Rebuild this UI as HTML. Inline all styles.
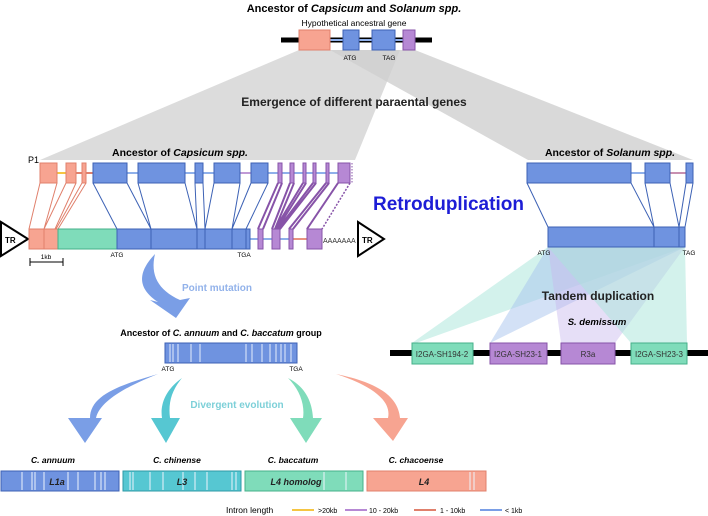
<!DOCTYPE html>
<html><head><meta charset="utf-8"><style>
body{margin:0;background:#fff}
svg{display:block;font-family:"Liberation Sans",Arial,sans-serif}
.b{fill:#6f93e0;stroke:#3d62b5;stroke-width:1}
.s{fill:#f7a491;stroke:#e0806c;stroke-width:1}
.p{fill:#b688d4;stroke:#8753a8;stroke-width:1}
.g{fill:#7fdcba;stroke:#45b08a;stroke-width:1}
.t{fill:#56c7d2;stroke:#2e9aa6;stroke-width:1}
.lb{stroke:#3d62b5;stroke-width:1;fill:none}
.ls{stroke:#e0806c;stroke-width:1;fill:none}
.lp{stroke:#8753a8;stroke-width:1;fill:none}
</style></head><body>
<svg width="708" height="516" viewBox="0 0 708 516">
<!-- gray fans -->
<polygon points="299,50 400,50 355,160 40,160" fill="#dcdcdc"/>
<polygon points="330,50 415,50 693,160 528,160" fill="#d0d0d0" opacity="0.8"/>
<!-- top -->
<text x="354" y="12" font-size="11" font-weight="bold" text-anchor="middle">Ancestor of <tspan font-style="italic">Capsicum</tspan> and <tspan font-style="italic">Solanum spp.</tspan></text>
<text x="354" y="26" font-size="8.5" text-anchor="middle">Hypothetical ancestral gene</text>
<line x1="281" y1="40" x2="432" y2="40" stroke="#000" stroke-width="5"/>
<line x1="330" y1="40" x2="403" y2="40" stroke="#8fb0ea" stroke-width="2"/>
<rect x="299" y="30" width="31" height="20" class="s"/>
<rect x="343" y="30" width="16" height="20" class="b"/>
<rect x="372" y="30" width="23" height="20" class="b"/>
<rect x="403" y="30" width="12" height="20" class="p"/>
<text x="350" y="60" font-size="6.5" text-anchor="middle">ATG</text>
<text x="389" y="60" font-size="6.5" text-anchor="middle">TAG</text>
<text x="354" y="106" font-size="12" font-weight="bold" text-anchor="middle" fill="#222">Emergence of different paraental genes</text>
<!-- Capsicum ancestor -->
<text x="180" y="156" font-size="10.5" font-weight="bold" text-anchor="middle">Ancestor of <tspan font-style="italic">Capsicum spp.</tspan></text>
<text x="28" y="163" font-size="9">P1</text>
<line x1="57" y1="173" x2="66" y2="173" stroke="#f5c542" stroke-width="2"/>
<line x1="76" y1="173" x2="93" y2="173" stroke="#e0806c" stroke-width="2"/>
<line x1="127" y1="173" x2="278" y2="173" stroke="#8fb0ea" stroke-width="2"/>
<line x1="240" y1="173" x2="251" y2="173" stroke="#c09ad6" stroke-width="2"/>
<line x1="278" y1="173" x2="338" y2="173" stroke="#8fb0ea" stroke-width="2"/>
<rect x="40" y="163" width="17" height="20" class="s"/>
<rect x="66" y="163" width="10" height="20" class="s"/>
<rect x="82" y="163" width="4" height="20" class="s"/>
<rect x="93" y="163" width="34" height="20" class="b"/>
<rect x="138" y="163" width="47" height="20" class="b"/>
<rect x="195" y="163" width="8" height="20" class="b"/>
<rect x="214" y="163" width="26" height="20" class="b"/>
<rect x="251" y="163" width="17" height="20" class="b"/>
<rect x="278" y="163" width="4" height="20" class="p"/>
<rect x="290" y="163" width="4" height="20" class="p"/>
<rect x="303" y="163" width="3" height="20" class="p"/>
<rect x="313" y="163" width="3" height="20" class="p"/>
<rect x="326" y="163" width="3" height="20" class="p"/>
<rect x="338" y="163" width="12" height="20" class="p"/>
<line x1="352" y1="163" x2="352" y2="183" stroke="#8753a8" stroke-dasharray="1.5,1.5"/>
<!-- connectors -->
<g class="ls"><path d="M40,183 L29,229 M57,183 L44,229 M66,183 L44,229 M76,183 L55,229 M82,183 L56,229 M86,183 L58,229"/></g>
<g class="lb"><path d="M93,183 L117,229 M127,183 L151,229 M138,183 L151,229 M185,183 L197,229 M195,183 L197,229 M203,183 L205,229 M214,183 L205,229 M240,183 L232,229 M251,183 L232,229 M268,183 L246,229"/></g>
<g stroke="#8753a8" stroke-width="2" fill="none"><path d="M278,183 L258,229 M282,183 L263,229 M290,183 L272,229 M294,183 L275,229 M303,183 L275,229 M306,183 L277,229 M313,183 L278,229 M316,183 L280,229 M326,183 L289,229 M329,183 L293,229 M338,183 L307,229"/></g>
<line x1="350" y1="183" x2="322" y2="229" stroke="#8753a8" stroke-dasharray="2,1.5" stroke-width="1.5"/>
<!-- lower row -->
<polygon points="1,222 28,239 1,256" fill="#fff" stroke="#000" stroke-width="2"/>
<text x="5" y="243" font-size="8" font-weight="bold">TR</text>
<line x1="250" y1="239" x2="307" y2="239" stroke="#8fb0ea" stroke-width="2"/>
<line x1="293" y1="239" x2="307" y2="239" stroke="#e89380" stroke-width="2"/>
<rect x="29" y="229" width="15" height="20" class="s"/>
<rect x="44" y="229" width="14" height="20" class="s"/>
<rect x="58" y="229" width="59" height="20" class="g"/>
<rect x="117" y="229" width="133" height="20" class="b"/>
<g class="lb"><path d="M151,229V249M197,229V249M205,229V249M232,229V249M246,229V249"/></g>
<rect x="258" y="229" width="5" height="20" class="p"/>
<rect x="272" y="229" width="8" height="20" class="p"/>
<rect x="289" y="229" width="4" height="20" class="p"/>
<rect x="307" y="229" width="15" height="20" class="p"/>
<text x="323" y="243" font-size="7" fill="#333">AAAAAAA</text>
<polygon points="358,222 384,239 358,256" fill="#fff" stroke="#000" stroke-width="2"/>
<text x="362" y="243" font-size="8" font-weight="bold">TR</text>
<text x="117" y="257" font-size="6.5" text-anchor="middle">ATG</text>
<text x="244" y="257" font-size="6.5" text-anchor="middle">TGA</text>
<path d="M30,258V266M30,262H63M63,258V266" stroke="#000" fill="none"/>
<text x="46" y="259" font-size="6.5" text-anchor="middle">1kb</text>
<text x="373" y="210" font-size="19" font-weight="bold" fill="#1d1dd6">Retroduplication</text>
<!-- point mutation arrow -->
<path d="M155,254 C135,275 140,290 158,302 L150,300 L176,318 L190,298 L180,300 C158,290 150,275 155,254 Z" fill="#7a9ee6"/>
<text x="217" y="291" font-size="10" font-weight="bold" fill="#92b2ea" text-anchor="middle">Point mutation</text>
<!-- Solanum -->
<text x="610" y="156" font-size="10.5" font-weight="bold" text-anchor="middle">Ancestor of <tspan font-style="italic">Solanum spp.</tspan></text>
<line x1="631" y1="173" x2="645" y2="173" stroke="#8fb0ea" stroke-width="2"/>
<line x1="670" y1="173" x2="686" y2="173" stroke="#c890b0" stroke-width="2"/>
<rect x="527" y="163" width="104" height="20" class="b"/>
<rect x="645" y="163" width="25" height="20" class="b"/>
<rect x="686" y="163" width="7" height="20" class="b"/>
<g class="lb"><path d="M527,183L548,227M631,183L654,227M645,183L654,227M670,183L679,227M686,183L679,227M693,183L685,227"/></g>
<polygon points="548,247 685,247 416,343 412,343" fill="#a8e6da" opacity="0.5"/>
<polygon points="548,247 685,247 490,343" fill="#a8c4ee" opacity="0.5"/>
<polygon points="548,247 685,247 615,343 561,343" fill="#c8b8ee" opacity="0.45"/>
<polygon points="548,247 685,247 687,343 631,343" fill="#a8e6da" opacity="0.5"/>
<rect x="548" y="227" width="137" height="20" class="b"/>
<g class="lb"><path d="M654,227V247M679,227V247"/></g>
<text x="544" y="255" font-size="6.5" text-anchor="middle">ATG</text>
<text x="689" y="255" font-size="6.5" text-anchor="middle">TAG</text>
<text x="598" y="300" font-size="12" font-weight="bold" text-anchor="middle" fill="#222">Tandem duplication</text>
<text x="597" y="325" font-size="9.5" font-weight="bold" font-style="italic" text-anchor="middle">S. demissum</text>
<line x1="390" y1="353" x2="708" y2="353" stroke="#000" stroke-width="6"/>
<rect x="412" y="343" width="61" height="21" class="g"/>
<rect x="490" y="343" width="57" height="21" class="p"/>
<rect x="561" y="343" width="54" height="21" class="p"/>
<rect x="631" y="343" width="56" height="21" class="g"/>
<g font-size="8" text-anchor="middle" fill="#333">
<text x="442" y="357">I2GA-SH194-2</text><text x="518" y="357">I2GA-SH23-1</text><text x="588" y="357">R3a</text><text x="659" y="357">I2GA-SH23-3</text></g>
<!-- C annuum group ancestor -->
<text x="221" y="336" font-size="9" font-weight="bold" text-anchor="middle">Ancestor of <tspan font-style="italic">C. annuum</tspan> and <tspan font-style="italic">C. baccatum</tspan> group</text>
<rect x="165" y="343" width="132" height="20" class="b"/>
<g stroke="#e4ecfb" stroke-width="1"><path d="M170,344v18M173,344v18M178,344v18M191,344v18M200,344v18M246,344v18M252,344v18M262,344v18M270,344v18M276,344v18M281,344v18M285,344v18M291,344v18"/></g>
<text x="168" y="371" font-size="6.5" text-anchor="middle">ATG</text>
<text x="296" y="371" font-size="6.5" text-anchor="middle">TGA</text>
<!-- divergent arrows -->
<path d="M158,374 C120,385 90,395 90,418 L68,418 L85,443 L102,418 L96,418 C100,400 130,385 158,374 Z" fill="#7a9ee6"/>
<path d="M182,378 C165,390 160,405 162,418 L151,418 L166,443 L180,418 L170,418 C168,402 172,390 182,378 Z" fill="#56c7d2"/>
<path d="M288,378 C300,390 305,405 303,418 L290,418 L306,443 L322,418 L313,418 C312,400 304,386 288,378 Z" fill="#7fdcba"/>
<path d="M336,374 C370,385 392,400 388,418 L373,418 L393,441 L408,418 L400,418 C398,395 375,382 336,374 Z" fill="#f7a491"/>
<text x="237" y="408" font-size="10" font-weight="bold" fill="#7dd0d8" text-anchor="middle">Divergent evolution</text>
<g font-size="8.5" font-weight="bold" font-style="italic" text-anchor="middle">
<text x="53" y="463">C. annuum</text><text x="177" y="463">C. chinense</text><text x="293" y="463">C. baccatum</text><text x="416" y="463">C. chacoense</text></g>
<rect x="1" y="471" width="118" height="20" class="b"/>
<rect x="123" y="471" width="118" height="20" class="t"/>
<rect x="245" y="471" width="118" height="20" class="g"/>
<rect x="367" y="471" width="119" height="20" class="s"/>
<g stroke="#eef3fc" stroke-width="1"><path d="M22,472v18M32,472v18M35,472v18M44,472v18M68,472v18M78,472v18M95,472v18M101,472v18M105,472v18 M130,472v18M133,472v18M150,472v18M163,472v18M183,472v18M195,472v18M207,472v18M232,472v18M236,472v18 M324,472v18M346,472v18 M470,472v18M474,472v18"/></g>
<g font-size="9" font-weight="bold" font-style="italic" text-anchor="middle" fill="#222">
<text x="57" y="485">L1a</text><text x="182" y="485">L3</text><text x="296" y="485">L4 homolog</text><text x="424" y="485">L4</text></g>
<!-- legend -->
<text x="226" y="513" font-size="8.5">Intron length</text>
<line x1="292" y1="510" x2="314" y2="510" stroke="#f5c542" stroke-width="2"/>
<text x="318" y="513" font-size="7">&gt;20kb</text>
<line x1="345" y1="510" x2="367" y2="510" stroke="#b688d4" stroke-width="2"/>
<text x="369" y="513" font-size="7">10 - 20kb</text>
<line x1="414" y1="510" x2="436" y2="510" stroke="#e0806c" stroke-width="2"/>
<text x="440" y="513" font-size="7">1 - 10kb</text>
<line x1="480" y1="510" x2="502" y2="510" stroke="#7a9ee6" stroke-width="2"/>
<text x="505" y="513" font-size="7">&lt; 1kb</text>
</svg>
</body></html>
